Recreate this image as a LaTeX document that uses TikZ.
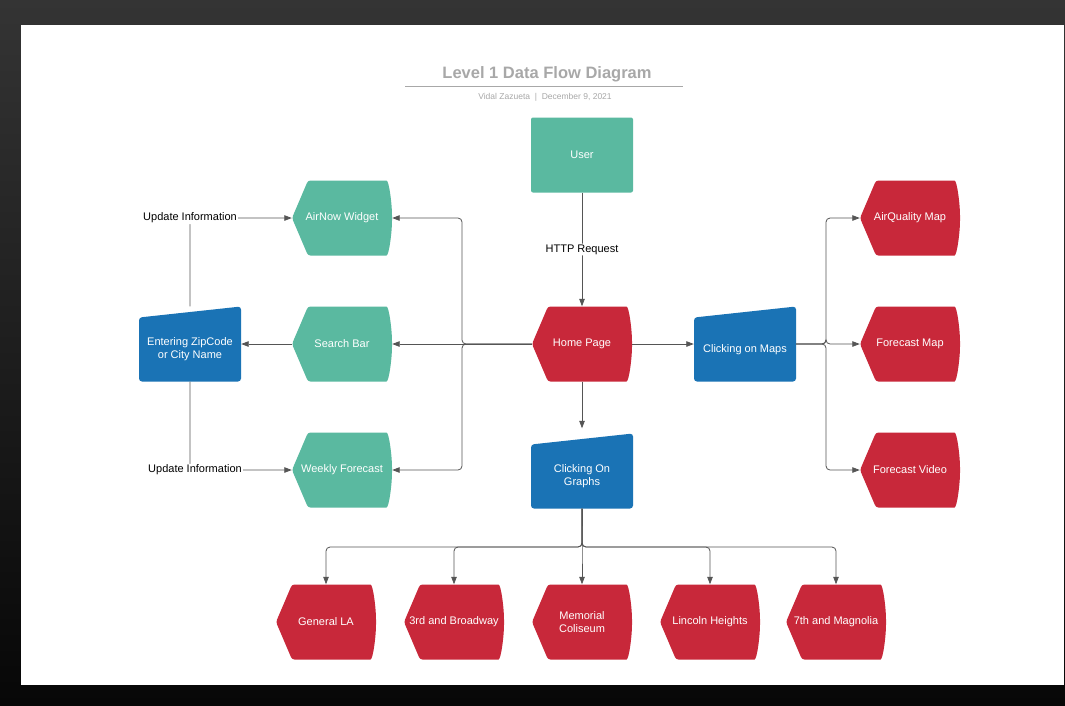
\documentclass[tikz,border=0pt]{standalone}
\usepackage{fontspec}
\setmainfont{Liberation Sans}
\usetikzlibrary{positioning,arrows.meta}

\definecolor{dfdteal}{HTML}{5AB9A0}
\definecolor{dfdred}{HTML}{C8283A}
\definecolor{dfdblue}{HTML}{1A73B5}
\definecolor{dfdline}{HTML}{555555}
\definecolor{dfdtitle}{HTML}{A8A8A8}
\definecolor{dfdbgtop}{HTML}{343434}
\definecolor{dfdbgbot}{HTML}{070707}

% text sits a little low in the slanted boxes
\newcommand{\lowtext}[2][5.5pt]{\raisebox{-#1}[\height][\depth]{\begin{tabular}{@{}c@{}}#2\end{tabular}}}

\tikzset{
  box/.style={rectangle, fill=white, minimum width=100pt, minimum height=75pt,
    inner sep=2pt, text=white, align=center, font=\fontsize{11}{13}\selectfont},
  display/.style={box, path picture={
    \fill[#1, rounded corners=2.5pt] (path picture bounding box.west)
      -- ([xshift=16pt]path picture bounding box.north west)
      -- ([xshift=-8pt]path picture bounding box.north east)
      .. controls ([xshift=-3pt]path picture bounding box.north east) and ([yshift=14pt]path picture bounding box.east) .. (path picture bounding box.east)
      .. controls ([yshift=-14pt]path picture bounding box.east) and ([xshift=-3pt]path picture bounding box.south east) .. ([xshift=-8pt]path picture bounding box.south east)
      -- ([xshift=16pt]path picture bounding box.south west) -- cycle;}},
  manual/.style={box, minimum width=102pt, path picture={
    \fill[#1, rounded corners=3pt] (path picture bounding box.south west)
      -- ([yshift=-11pt]path picture bounding box.north west)
      -- (path picture bounding box.north east)
      -- (path picture bounding box.south east) -- cycle;}},
  actor/.style={rectangle, rounded corners=2pt, fill=dfdteal, minimum width=102pt,
    minimum height=75pt, text=white, font=\fontsize{11}{13}\selectfont},
  conn/.style={draw=dfdline, line width=0.8pt, rounded corners=4pt,
    -{Triangle[length=7.5pt,width=5.5pt]}},
  lbl/.style={fill=white, text=black, inner sep=1pt, font=\fontsize{11}{13}\selectfont}
}

\begin{document}
\begin{tikzpicture}[x=1pt,y=-1pt,node distance=126pt,on grid]
  % page
  \shade[top color=dfdbgtop, bottom color=dfdbgbot] (0,0) rectangle (1065,705);
  \fill[white] (21,25) rectangle (1064,685);

  % heading
  \node[font=\bfseries\fontsize{16.5}{20}\selectfont, text=dfdtitle] (title) at (547,74) {Level 1 Data Flow Diagram};
  \draw[dfdtitle, line width=1pt] (405,86) -- (683,86);
  \node[font=\fontsize{8.5}{10}\selectfont, text=dfdtitle] (byline) at (545,97) {Vidal Zazueta \ | \ December 9, 2021};

  % processes
  \node[display=dfdred] (home) at (582,344) {Home Page};
  \node[actor] (user) [above=189pt of home] {User};
  \node[manual=dfdblue] (maps) [right=163pt of home] {\lowtext{Clicking on Maps}};
  \node[manual=dfdblue] (graphs) [below=127pt of home] {\lowtext{Clicking On\\Graphs}};

  \node[display=dfdteal] (search) [left=240pt of home] {Search Bar};
  \node[display=dfdteal] (airnow) [above=of search] {AirNow Widget};
  \node[display=dfdteal] (weekly) [below=of search] {Weekly Forecast};
  \node[manual=dfdblue] (zip) [left=152pt of search] {\lowtext{Entering ZipCode\\or City Name}};

  \node[display=dfdred] (fmap) [right=165pt of maps] {Forecast Map};
  \node[display=dfdred] (aqmap) [above=of fmap] {AirQuality Map};
  \node[display=dfdred] (fvideo) [below=of fmap] {Forecast Video};

  \node[display=dfdred] (coliseum) [below=151pt of graphs] {Memorial\\Coliseum};
  \node[display=dfdred] (broadway) [left=128pt of coliseum] {3rd and Broadway};
  \node[display=dfdred] (genla) [left=128pt of broadway] {General LA};
  \node[display=dfdred] (lincoln) [right=128pt of coliseum] {Lincoln Heights};
  \node[display=dfdred] (magnolia) [right=126pt of lincoln] {7th and Magnolia};

  % bus points
  \coordinate (lbus) at (462,344);
  \coordinate (rbus) at (826,344);
  \coordinate (gbus) at (582,547);

  % flows
  \path[conn] (user) -- node[lbl] {HTTP Request} (home);

  \path[conn] (home.west) -- (search.east);
  \path[conn] (home.west) -- (lbus) |- (airnow.east);
  \path[conn] (home.west) -- (lbus) |- (weekly.east);
  \path[conn] (search.west) -- (zip.east);
  \path[conn] (zip.north) |- node[lbl] {Update Information} (airnow.west);
  \path[conn] (zip.south) |- node[lbl, xshift=5pt] {Update Information} (weekly.west);

  \path[conn] (home.east) -- (maps.west);
  \foreach \m in {aqmap,fmap,fvideo}
    \path[conn] (maps.east) -- (rbus) |- (\m.west);

  \path[conn, shorten >=5pt] (home.south) -- (graphs.north);
  \foreach \g in {genla,broadway,coliseum,lincoln,magnolia}
    \path[conn] (graphs.south) -- (gbus) -| (\g.north);
\end{tikzpicture}
\end{document}
